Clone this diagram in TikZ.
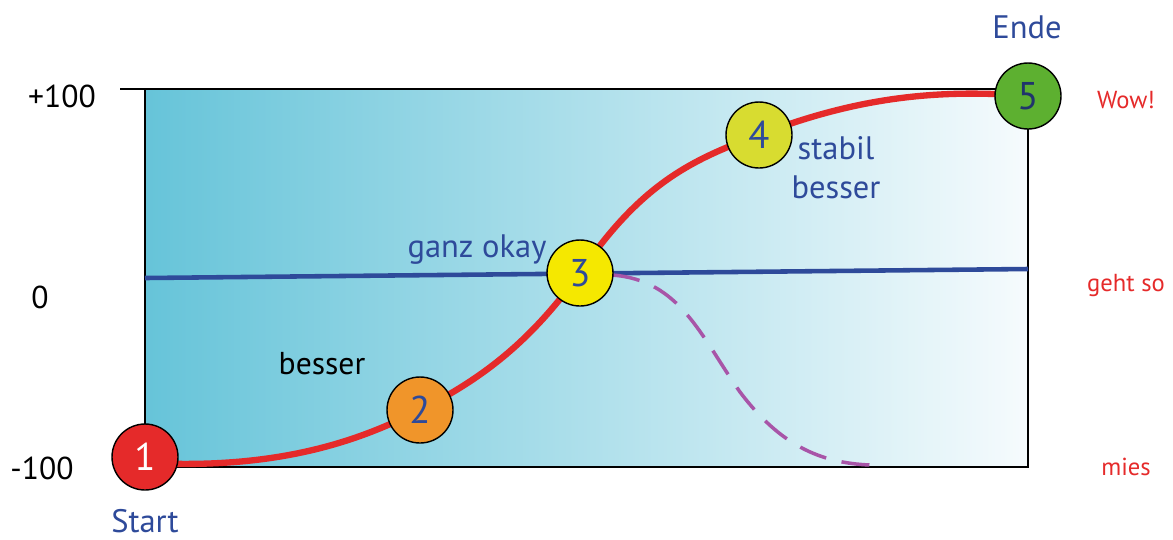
\documentclass[tikz,border=0pt]{standalone}
\usepackage{fontspec}
\setmainfont{PT Sans}
\usepackage{xcolor}
\usepackage{tikz}
\usetikzlibrary{positioning, calc}

\definecolor{skyteal}{HTML}{66C4D9}
\definecolor{paleend}{HTML}{F6FBFD}
\definecolor{curvered}{HTML}{E52A2A}
\definecolor{lineblue}{HTML}{2E4A9A}
\definecolor{dropviolet}{HTML}{A855A8}
\definecolor{dotorange}{HTML}{F0952A}
\definecolor{dotyellow}{HTML}{F5E800}
\definecolor{dotlime}{HTML}{D8DC30}
\definecolor{dotgreen}{HTML}{5DB030}

\begin{document}
\begin{tikzpicture}[x=0.02cm, y=-0.02cm,
    dot/.style={circle, draw=black, line width=0.8pt, minimum size=1.32cm, inner sep=0pt, font=\fontsize{22}{22}\selectfont},
    axislabel/.style={font=\fontsize{18}{18}\selectfont, text=black},
    blabel/.style={font=\fontsize{18.5}{18.5}\selectfont, text=lineblue},
    rlabel/.style={font=\fontsize{14}{14}\selectfont, text=curvered}]

    % Canvas
    \useasboundingbox (0,0) rectangle (1173,539);

    % Shaded field
    \shade[left color=skyteal, right color=paleend] (145,89) rectangle (1028,467);
    \draw[line width=0.8pt] (145,89) rectangle (1028,467);

    % Tick at the top level
    \coordinate (tickL) at (120,89);
    \coordinate (tickR) at (145,89);
    \draw[line width=0.8pt] (tickL) -- (tickR);

    % Level labels
    \node[axislabel] (top) at (62,96) {+100};
    \node[axislabel] (mid) at (40,297) {0};
    \node[axislabel] (low) at (42,468) {-100};

    % Neutral blue line
    \coordinate (blueL) at (145,278);
    \coordinate (blueR) at (1028,269);
    \draw[lineblue, line width=2.6pt] (blueL) -- (blueR);

    % Points on the path
    \coordinate (p1) at (145,457);
    \coordinate (p2) at (420,410);
    \coordinate (p3) at (580,273);
    \coordinate (p4) at (759,135);
    \coordinate (p5) at (1028,96);

    % Dashed drop after point 3
    \coordinate (drop) at (870,465);
    \draw[dropviolet, line width=2pt, dash pattern=on 16pt off 9pt]
        (612,275) .. controls (680,280) and (700,335) .. (740,392)
                  .. controls (780,445) and (820,463) .. (drop);

    % Red path
    \draw[curvered, line width=3.6pt]
        (150,463) .. controls (290,470) and (370,435) .. (p2)
                  .. controls (490,375) and (535,335) .. (p3)
                  .. controls (640,185) and (690,160) .. (p4)
                  .. controls (850,100) and (930,88) .. (p5);

    % Numbered dots
    \node[dot, fill=curvered, text=white] (n1) at (p1) {1};
    \node[dot, fill=dotorange, text=lineblue] (n2) at (p2) {2};
    \node[dot, fill=dotyellow, text=lineblue] (n3) at (p3) {3};
    \node[dot, fill=dotlime, text=lineblue] (n4) at (p4) {4};
    \node[dot, fill=dotgreen, text=lineblue!70!black] (n5) at (p5) {5};

    % Blue labels
    \node[blabel] (start) at (145,521) {Start};
    \node[blabel] (ende) at (1027,27) {Ende};
    \node[blabel] (okay) at (477,250) {ganz okay};
    \node[blabel] (stabil) at (836,148) {stabil};
    \node[blabel] (besserB) at (836,187) {besser};

    % Black label
    \node[axislabel] (besserA) at (322,364) {besser};

    % Red outcome labels
    \node[rlabel] (wow) at (1126,100) {Wow!};
    \node[rlabel] (gehtso) at (1126,285) {geht so};
    \node[rlabel] (mies) at (1126,467) {mies};

\end{tikzpicture}
\end{document}
